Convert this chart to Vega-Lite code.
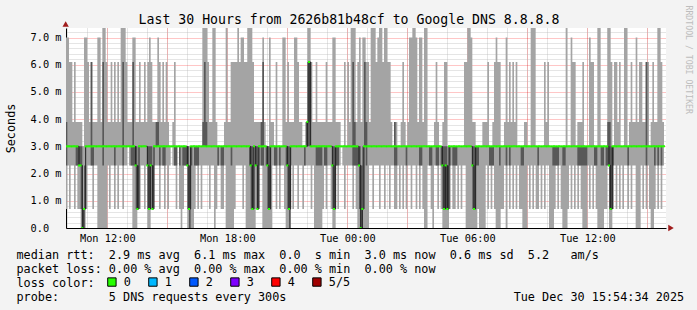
{
"$schema":"https://vega.github.io/schema/vega-lite/v6.json",
"width":600,"height":200,
"autosize":{"type":"none"},
"padding":{"left":66,"top":28,"right":31,"bottom":82},
"background":"#f3f3f3",
"config":{"view":{"fill":"white","stroke":null},"font":"DejaVu Sans Mono"},
"data":{"values":[
{"t":"2025-12-29T09:55","p1":0.7,"p2":2.3,"p3":3,"p4":3.9,"p5":7,"loss":"0"},
{"t":"2025-12-29T10:00","p1":2.3,"p2":3,"p3":3,"p4":3,"p5":7,"loss":"0"},
{"t":"2025-12-29T10:05","p1":0.7,"p2":3,"p3":3,"p4":3,"p5":6.1,"loss":"0"},
{"t":"2025-12-29T10:10","p1":2.3,"p2":3,"p3":3,"p4":3,"p5":6.1,"loss":"0"},
{"t":"2025-12-29T10:15","p1":2.3,"p2":3,"p3":3,"p4":3,"p5":3.9,"loss":"0"},
{"t":"2025-12-29T10:20","p1":0.7,"p2":3,"p3":3,"p4":3,"p5":6.1,"loss":"0"},
{"t":"2025-12-29T10:25","p1":2.3,"p2":2.3,"p3":3,"p4":3,"p5":3.9,"loss":"0"},
{"t":"2025-12-29T10:30","p1":0.7,"p2":2.3,"p3":3,"p4":3,"p5":3.9,"loss":"0"},
{"t":"2025-12-29T10:35","p1":0.7,"p2":2.3,"p3":2.3,"p4":3,"p5":3.9,"loss":"0"},
{"t":"2025-12-29T10:40","p1":0,"p2":0.7,"p3":2.3,"p4":3,"p5":3.9,"loss":"0"},
{"t":"2025-12-29T10:45","p1":0,"p2":0,"p3":0,"p4":0.7,"p5":3,"loss":"0"},
{"t":"2025-12-29T10:50","p1":0,"p2":0.7,"p3":0.7,"p4":2.3,"p5":7,"loss":"0"},
{"t":"2025-12-29T10:55","p1":0.7,"p2":3,"p3":3,"p4":3,"p5":7,"loss":"0"},
{"t":"2025-12-29T11:00","p1":2.3,"p2":3,"p3":3,"p4":3,"p5":6.1,"loss":"0"},
{"t":"2025-12-29T11:05","p1":2.3,"p2":3,"p3":3,"p4":3,"p5":3.9,"loss":"0"},
{"t":"2025-12-29T11:10","p1":2.3,"p2":2.3,"p3":3,"p4":6.1,"p5":6.1,"loss":"0"},
{"t":"2025-12-29T11:15","p1":0.7,"p2":2.3,"p3":3,"p4":3,"p5":3.9,"loss":"0"},
{"t":"2025-12-29T11:20","p1":2.3,"p2":3,"p3":3,"p4":3,"p5":3.9,"loss":"0"},
{"t":"2025-12-29T11:25","p1":2.3,"p2":3,"p3":3,"p4":3,"p5":3.9,"loss":"0"},
{"t":"2025-12-29T11:30","p1":0,"p2":3,"p3":3,"p4":3,"p5":7,"loss":"0"},
{"t":"2025-12-29T11:35","p1":0,"p2":3,"p3":3,"p4":3,"p5":7,"loss":"0"},
{"t":"2025-12-29T11:40","p1":0,"p2":3,"p3":3,"p4":3,"p5":3.9,"loss":"0"},
{"t":"2025-12-29T11:45","p1":0,"p2":2.3,"p3":3,"p4":6.1,"p5":7.35,"loss":"0"},
{"t":"2025-12-29T11:50","p1":0,"p2":3,"p3":3,"p4":3,"p5":7.35,"loss":"0"},
{"t":"2025-12-29T11:55","p1":0,"p2":3,"p3":3,"p4":3,"p5":6.1,"loss":"0"},
{"t":"2025-12-29T12:00","p1":2.3,"p2":3,"p3":3,"p4":3,"p5":3.9,"loss":"0"},
{"t":"2025-12-29T12:05","p1":0.7,"p2":3,"p3":3,"p4":3,"p5":3.9,"loss":"0"},
{"t":"2025-12-29T12:10","p1":2.3,"p2":3,"p3":3,"p4":3,"p5":6.1,"loss":"0"},
{"t":"2025-12-29T12:15","p1":2.3,"p2":3,"p3":3,"p4":3,"p5":3.9,"loss":"0"},
{"t":"2025-12-29T12:20","p1":0.7,"p2":2.3,"p3":3,"p4":3,"p5":6.1,"loss":"0"},
{"t":"2025-12-29T12:25","p1":2.3,"p2":3,"p3":3,"p4":3,"p5":3.9,"loss":"0"},
{"t":"2025-12-29T12:30","p1":0.7,"p2":3,"p3":3,"p4":3,"p5":6.1,"loss":"0"},
{"t":"2025-12-29T12:35","p1":2.3,"p2":3,"p3":3,"p4":3,"p5":3.9,"loss":"0"},
{"t":"2025-12-29T12:40","p1":2.3,"p2":3,"p3":3,"p4":3,"p5":7.35,"loss":"0"},
{"t":"2025-12-29T12:45","p1":0.7,"p2":2.3,"p3":3,"p4":6.1,"p5":7.35,"loss":"0"},
{"t":"2025-12-29T12:50","p1":2.3,"p2":3,"p3":3,"p4":3,"p5":7.35,"loss":"0"},
{"t":"2025-12-29T12:55","p1":2.3,"p2":3,"p3":3,"p4":3,"p5":6.1,"loss":"0"},
{"t":"2025-12-29T13:00","p1":3,"p2":3,"p3":3,"p4":3,"p5":3.9,"loss":"0"},
{"t":"2025-12-29T13:05","p1":2.3,"p2":3,"p3":3,"p4":3,"p5":3.9,"loss":"0"},
{"t":"2025-12-29T13:10","p1":2.3,"p2":2.3,"p3":3,"p4":3,"p5":3.9,"loss":"0"},
{"t":"2025-12-29T13:15","p1":0,"p2":2.3,"p3":3,"p4":6.1,"p5":7,"loss":"0"},
{"t":"2025-12-29T13:20","p1":0,"p2":2.3,"p3":3,"p4":3,"p5":7,"loss":"0"},
{"t":"2025-12-29T13:25","p1":0,"p2":0.7,"p3":2.3,"p4":3,"p5":3.9,"loss":"0"},
{"t":"2025-12-29T13:30","p1":0.7,"p2":0.7,"p3":0.7,"p4":2.3,"p5":3.9,"loss":"0"},
{"t":"2025-12-29T13:35","p1":0.7,"p2":3,"p3":3,"p4":3,"p5":6.1,"loss":"0"},
{"t":"2025-12-29T13:40","p1":2.3,"p2":3,"p3":3,"p4":3,"p5":3.9,"loss":"0"},
{"t":"2025-12-29T13:45","p1":2.3,"p2":3,"p3":3,"p4":3,"p5":3.9,"loss":"0"},
{"t":"2025-12-29T13:50","p1":0.7,"p2":3,"p3":3,"p4":3,"p5":6.1,"loss":"0"},
{"t":"2025-12-29T13:55","p1":2.3,"p2":3,"p3":3,"p4":3,"p5":3.9,"loss":"0"},
{"t":"2025-12-29T14:00","p1":0,"p2":0.7,"p3":2.3,"p4":3,"p5":6.1,"loss":"0"},
{"t":"2025-12-29T14:05","p1":0,"p2":0.7,"p3":0.7,"p4":3,"p5":7,"loss":"0"},
{"t":"2025-12-29T14:10","p1":0.7,"p2":2.3,"p3":2.3,"p4":3,"p5":6.1,"loss":"0"},
{"t":"2025-12-29T14:15","p1":0.7,"p2":0.7,"p3":0.7,"p4":2.3,"p5":3.9,"loss":"0"},
{"t":"2025-12-29T14:20","p1":2.3,"p2":3,"p3":3,"p4":3,"p5":3.9,"loss":"0"},
{"t":"2025-12-29T14:25","p1":2.3,"p2":3,"p3":3,"p4":3.9,"p5":3.9,"loss":"0"},
{"t":"2025-12-29T14:30","p1":2.3,"p2":3,"p3":3,"p4":3.9,"p5":7,"loss":"0"},
{"t":"2025-12-29T14:35","p1":0.7,"p2":2.3,"p3":3,"p4":3,"p5":6.1,"loss":"0"},
{"t":"2025-12-29T14:40","p1":2.3,"p2":3,"p3":3,"p4":3,"p5":3.9,"loss":"0"},
{"t":"2025-12-29T14:45","p1":2.3,"p2":2.3,"p3":3,"p4":3,"p5":6.1,"loss":"0"},
{"t":"2025-12-29T14:50","p1":0.7,"p2":2.3,"p3":3,"p4":3,"p5":3.9,"loss":"0"},
{"t":"2025-12-29T14:55","p1":2.3,"p2":3,"p3":3,"p4":3,"p5":6.1,"loss":"0"},
{"t":"2025-12-29T15:00","p1":0.7,"p2":3,"p3":3,"p4":3,"p5":3.9,"loss":"0"},
{"t":"2025-12-29T15:05","p1":2.3,"p2":3,"p3":3,"p4":3,"p5":3,"loss":"0"},
{"t":"2025-12-29T15:10","p1":3,"p2":3,"p3":3,"p4":3,"p5":3,"loss":"0"},
{"t":"2025-12-29T15:15","p1":2.3,"p2":3,"p3":3,"p4":3,"p5":3.9,"loss":"0"},
{"t":"2025-12-29T15:20","p1":2.3,"p2":2.3,"p3":3,"p4":3,"p5":6.1,"loss":"0"},
{"t":"2025-12-29T15:25","p1":0.7,"p2":2.3,"p3":3,"p4":3,"p5":3,"loss":"0"},
{"t":"2025-12-29T15:30","p1":3,"p2":3,"p3":3,"p4":3,"p5":3,"loss":"0"},
{"t":"2025-12-29T15:35","p1":0.7,"p2":2.3,"p3":3,"p4":3,"p5":3,"loss":"0"},
{"t":"2025-12-29T15:40","p1":0,"p2":3,"p3":3,"p4":3,"p5":3,"loss":"0"},
{"t":"2025-12-29T15:45","p1":0.7,"p2":2.3,"p3":3,"p4":3,"p5":3,"loss":"0"},
{"t":"2025-12-29T15:50","p1":2.3,"p2":2.3,"p3":3,"p4":3,"p5":3,"loss":"0"},
{"t":"2025-12-29T15:55","p1":2.3,"p2":2.3,"p3":3,"p4":3,"p5":3,"loss":"0"},
{"t":"2025-12-29T16:00","p1":0,"p2":0.7,"p3":2.3,"p4":3,"p5":3,"loss":"0"},
{"t":"2025-12-29T16:05","p1":0,"p2":0,"p3":0.7,"p4":2.3,"p5":3,"loss":"0"},
{"t":"2025-12-29T16:10","p1":0,"p2":2.3,"p3":3,"p4":3,"p5":3,"loss":"0"},
{"t":"2025-12-29T16:15","p1":0,"p2":3,"p3":3,"p4":3,"p5":3,"loss":"0"},
{"t":"2025-12-29T16:20","p1":0.7,"p2":2.3,"p3":3,"p4":3,"p5":3,"loss":"0"},
{"t":"2025-12-29T16:25","p1":2.3,"p2":2.3,"p3":3,"p4":3,"p5":3,"loss":"0"},
{"t":"2025-12-29T16:30","p1":0.7,"p2":2.3,"p3":3,"p4":3,"p5":3,"loss":"0"},
{"t":"2025-12-29T16:35","p1":2.3,"p2":3,"p3":3,"p4":3,"p5":3,"loss":"0"},
{"t":"2025-12-29T16:40","p1":0.7,"p2":3,"p3":3,"p4":3,"p5":3,"loss":"0"},
{"t":"2025-12-29T16:45","p1":2.3,"p2":3,"p3":3,"p4":3.9,"p5":7.35,"loss":"0"},
{"t":"2025-12-29T16:50","p1":2.3,"p2":3,"p3":3,"p4":6.1,"p5":7.35,"loss":"0"},
{"t":"2025-12-29T16:55","p1":2.3,"p2":3,"p3":3,"p4":3.9,"p5":7.35,"loss":"0"},
{"t":"2025-12-29T17:00","p1":2.3,"p2":3,"p3":3,"p4":3,"p5":6.1,"loss":"0"},
{"t":"2025-12-29T17:05","p1":0.7,"p2":3,"p3":3,"p4":3,"p5":3.9,"loss":"0"},
{"t":"2025-12-29T17:10","p1":2.3,"p2":3,"p3":3,"p4":3,"p5":3.9,"loss":"0"},
{"t":"2025-12-29T17:15","p1":2.3,"p2":3,"p3":3,"p4":3,"p5":7.35,"loss":"0"},
{"t":"2025-12-29T17:20","p1":0,"p2":3,"p3":3,"p4":3,"p5":7.35,"loss":"0"},
{"t":"2025-12-29T17:25","p1":0.7,"p2":3,"p3":3,"p4":3,"p5":3.9,"loss":"0"},
{"t":"2025-12-29T17:30","p1":2.3,"p2":2.3,"p3":3,"p4":3,"p5":3,"loss":"0"},
{"t":"2025-12-29T17:35","p1":2.3,"p2":3,"p3":3,"p4":3,"p5":3,"loss":"0"},
{"t":"2025-12-29T17:40","p1":0.7,"p2":2.3,"p3":3,"p4":3,"p5":3,"loss":"0"},
{"t":"2025-12-29T17:45","p1":0.7,"p2":2.3,"p3":3,"p4":3,"p5":3,"loss":"0"},
{"t":"2025-12-29T17:50","p1":2.3,"p2":3,"p3":3,"p4":3,"p5":3.9,"loss":"0"},
{"t":"2025-12-29T17:55","p1":0,"p2":3,"p3":3,"p4":3,"p5":7.35,"loss":"0"},
{"t":"2025-12-29T18:00","p1":0,"p2":3,"p3":3,"p4":3,"p5":3.9,"loss":"0"},
{"t":"2025-12-29T18:05","p1":0,"p2":3,"p3":3,"p4":3,"p5":3.9,"loss":"0"},
{"t":"2025-12-29T18:10","p1":0,"p2":2.3,"p3":3,"p4":3,"p5":6.1,"loss":"0"},
{"t":"2025-12-29T18:15","p1":0,"p2":3,"p3":3,"p4":3,"p5":6.1,"loss":"0"},
{"t":"2025-12-29T18:20","p1":0.7,"p2":3,"p3":3,"p4":3,"p5":6.1,"loss":"0"},
{"t":"2025-12-29T18:25","p1":2.3,"p2":3,"p3":3,"p4":3,"p5":6.1,"loss":"0"},
{"t":"2025-12-29T18:30","p1":2.3,"p2":3,"p3":3,"p4":3,"p5":7.35,"loss":"0"},
{"t":"2025-12-29T18:35","p1":2.3,"p2":3,"p3":3,"p4":3,"p5":6.1,"loss":"0"},
{"t":"2025-12-29T18:40","p1":2.3,"p2":3,"p3":3,"p4":3,"p5":7,"loss":"0"},
{"t":"2025-12-29T18:45","p1":0.7,"p2":3,"p3":3,"p4":3,"p5":7,"loss":"0"},
{"t":"2025-12-29T18:50","p1":2.3,"p2":3,"p3":3,"p4":3,"p5":6.1,"loss":"0"},
{"t":"2025-12-29T18:55","p1":0,"p2":3,"p3":3,"p4":3,"p5":6.1,"loss":"0"},
{"t":"2025-12-29T19:00","p1":0,"p2":3,"p3":3,"p4":3,"p5":7.35,"loss":"0"},
{"t":"2025-12-29T19:05","p1":0,"p2":2.3,"p3":3,"p4":3,"p5":7.35,"loss":"0"},
{"t":"2025-12-29T19:10","p1":0,"p2":0.7,"p3":2.3,"p4":3,"p5":7.35,"loss":"0"},
{"t":"2025-12-29T19:15","p1":0,"p2":0.7,"p3":0.7,"p4":3,"p5":6.1,"loss":"0"},
{"t":"2025-12-29T19:20","p1":0,"p2":3,"p3":3,"p4":3,"p5":3.9,"loss":"0"},
{"t":"2025-12-29T19:25","p1":0.7,"p2":2.3,"p3":2.3,"p4":3,"p5":3.9,"loss":"0"},
{"t":"2025-12-29T19:30","p1":0.7,"p2":0.7,"p3":0.7,"p4":3,"p5":3.9,"loss":"0"},
{"t":"2025-12-29T19:35","p1":2.3,"p2":3,"p3":3,"p4":3,"p5":3.9,"loss":"0"},
{"t":"2025-12-29T19:40","p1":2.3,"p2":2.3,"p3":3,"p4":3.9,"p5":3.9,"loss":"0"},
{"t":"2025-12-29T19:45","p1":0,"p2":2.3,"p3":3,"p4":6.1,"p5":7,"loss":"0"},
{"t":"2025-12-29T19:50","p1":0,"p2":3,"p3":3,"p4":3,"p5":3.9,"loss":"0"},
{"t":"2025-12-29T19:55","p1":0,"p2":2.3,"p3":3,"p4":3,"p5":3,"loss":"0"},
{"t":"2025-12-29T20:00","p1":0,"p2":0.7,"p3":2.3,"p4":3,"p5":3,"loss":"0"},
{"t":"2025-12-29T20:05","p1":0,"p2":0.7,"p3":0.7,"p4":3,"p5":7,"loss":"0"},
{"t":"2025-12-29T20:10","p1":0,"p2":3,"p3":3,"p4":3,"p5":3.9,"loss":"0"},
{"t":"2025-12-29T20:15","p1":2.3,"p2":3,"p3":3,"p4":3,"p5":3.9,"loss":"0"},
{"t":"2025-12-29T20:20","p1":2.3,"p2":2.3,"p3":3,"p4":3,"p5":3,"loss":"0"},
{"t":"2025-12-29T20:25","p1":0.7,"p2":2.3,"p3":3,"p4":3,"p5":6.1,"loss":"0"},
{"t":"2025-12-29T20:30","p1":2.3,"p2":3,"p3":3,"p4":3,"p5":3,"loss":"0"},
{"t":"2025-12-29T20:35","p1":0.7,"p2":2.3,"p3":3,"p4":3,"p5":3,"loss":"0"},
{"t":"2025-12-29T20:40","p1":2.3,"p2":3,"p3":3,"p4":3,"p5":3,"loss":"0"},
{"t":"2025-12-29T20:45","p1":2.3,"p2":3,"p3":3,"p4":3,"p5":7,"loss":"0"},
{"t":"2025-12-29T20:50","p1":0.7,"p2":3,"p3":3,"p4":3,"p5":7,"loss":"0"},
{"t":"2025-12-29T20:55","p1":0,"p2":2.3,"p3":3,"p4":3,"p5":3.9,"loss":"0"},
{"t":"2025-12-29T21:00","p1":0,"p2":0.7,"p3":2.3,"p4":3,"p5":6.1,"loss":"0"},
{"t":"2025-12-29T21:05","p1":0,"p2":0,"p3":0.7,"p4":3,"p5":3.9,"loss":"0"},
{"t":"2025-12-29T21:10","p1":2.3,"p2":3,"p3":3,"p4":3,"p5":3.9,"loss":"0"},
{"t":"2025-12-29T21:15","p1":0.7,"p2":3,"p3":3,"p4":3,"p5":3.9,"loss":"0"},
{"t":"2025-12-29T21:20","p1":2.3,"p2":3,"p3":3,"p4":3,"p5":7,"loss":"0"},
{"t":"2025-12-29T21:25","p1":2.3,"p2":3,"p3":3,"p4":3,"p5":7,"loss":"0"},
{"t":"2025-12-29T21:30","p1":0.7,"p2":3,"p3":3,"p4":3,"p5":6.1,"loss":"0"},
{"t":"2025-12-29T21:35","p1":2.3,"p2":3,"p3":3,"p4":3,"p5":3.9,"loss":"0"},
{"t":"2025-12-29T21:40","p1":2.3,"p2":3,"p3":3,"p4":3,"p5":3.9,"loss":"0"},
{"t":"2025-12-29T21:45","p1":0.7,"p2":3,"p3":3,"p4":3,"p5":3,"loss":"0"},
{"t":"2025-12-29T21:50","p1":2.3,"p2":2.3,"p3":3,"p4":3,"p5":3,"loss":"0"},
{"t":"2025-12-29T21:55","p1":2.3,"p2":3,"p3":3,"p4":3.9,"p5":3.9,"loss":"0"},
{"t":"2025-12-29T22:00","p1":2.3,"p2":3,"p3":3.9,"p4":6.1,"p5":7.35,"loss":"0"},
{"t":"2025-12-29T22:05","p1":2.3,"p2":3,"p3":6.1,"p4":6.1,"p5":7.35,"loss":"0"},
{"t":"2025-12-29T22:10","p1":0.7,"p2":3,"p3":3,"p4":3,"p5":6.1,"loss":"0"},
{"t":"2025-12-29T22:15","p1":2.3,"p2":3,"p3":3,"p4":3,"p5":3.9,"loss":"0"},
{"t":"2025-12-29T22:20","p1":0,"p2":3,"p3":3,"p4":3,"p5":3.9,"loss":"0"},
{"t":"2025-12-29T22:25","p1":0,"p2":2.3,"p3":3,"p4":3,"p5":6.1,"loss":"0"},
{"t":"2025-12-29T22:30","p1":0,"p2":2.3,"p3":3,"p4":3,"p5":3.9,"loss":"0"},
{"t":"2025-12-29T22:35","p1":0,"p2":2.3,"p3":3,"p4":3,"p5":3.9,"loss":"0"},
{"t":"2025-12-29T22:40","p1":0,"p2":2.3,"p3":3,"p4":3,"p5":3.9,"loss":"0"},
{"t":"2025-12-29T22:45","p1":0.7,"p2":3,"p3":3,"p4":3,"p5":3.9,"loss":"0"},
{"t":"2025-12-29T22:50","p1":2.3,"p2":2.3,"p3":3,"p4":3,"p5":3.9,"loss":"0"},
{"t":"2025-12-29T22:55","p1":0.7,"p2":2.3,"p3":3,"p4":3,"p5":6.1,"loss":"0"},
{"t":"2025-12-29T23:00","p1":2.3,"p2":3,"p3":3,"p4":3,"p5":3.9,"loss":"0"},
{"t":"2025-12-29T23:05","p1":2.3,"p2":3,"p3":3,"p4":3,"p5":3.9,"loss":"0"},
{"t":"2025-12-29T23:10","p1":0.7,"p2":3,"p3":3,"p4":3,"p5":3.9,"loss":"0"},
{"t":"2025-12-29T23:15","p1":0,"p2":0.7,"p3":2.3,"p4":3,"p5":7,"loss":"0"},
{"t":"2025-12-29T23:20","p1":0,"p2":0.7,"p3":0.7,"p4":3,"p5":7,"loss":"0"},
{"t":"2025-12-29T23:25","p1":2.3,"p2":2.3,"p3":3,"p4":3,"p5":3.9,"loss":"0"},
{"t":"2025-12-29T23:30","p1":0.7,"p2":2.3,"p3":3,"p4":3,"p5":3.9,"loss":"0"},
{"t":"2025-12-29T23:35","p1":2.3,"p2":3,"p3":3,"p4":3,"p5":3.9,"loss":"0"},
{"t":"2025-12-29T23:40","p1":3,"p2":3,"p3":3,"p4":3,"p5":3,"loss":"0"},
{"t":"2025-12-29T23:45","p1":2.3,"p2":3,"p3":3,"p4":3,"p5":3,"loss":"0"},
{"t":"2025-12-29T23:50","p1":0.7,"p2":3,"p3":3,"p4":3,"p5":6.1,"loss":"0"},
{"t":"2025-12-29T23:55","p1":2.3,"p2":3,"p3":3,"p4":3,"p5":3,"loss":"0"},
{"t":"2025-12-30T00:00","p1":2.3,"p2":3,"p3":3,"p4":3,"p5":6.1,"loss":"0"},
{"t":"2025-12-30T00:05","p1":2.3,"p2":3,"p3":3,"p4":3,"p5":3.9,"loss":"0"},
{"t":"2025-12-30T00:10","p1":2.3,"p2":3,"p3":3,"p4":3,"p5":7.35,"loss":"0"},
{"t":"2025-12-30T00:15","p1":0.7,"p2":2.3,"p3":3,"p4":6.1,"p5":7.35,"loss":"0"},
{"t":"2025-12-30T00:20","p1":2.3,"p2":2.3,"p3":3,"p4":3.9,"p5":7.35,"loss":"0"},
{"t":"2025-12-30T00:25","p1":0.7,"p2":2.3,"p3":3,"p4":3,"p5":3.9,"loss":"0"},
{"t":"2025-12-30T00:30","p1":0,"p2":2.3,"p3":3,"p4":3,"p5":6.1,"loss":"0"},
{"t":"2025-12-30T00:35","p1":0,"p2":0.7,"p3":2.3,"p4":3,"p5":7,"loss":"0"},
{"t":"2025-12-30T00:40","p1":0,"p2":0,"p3":0,"p4":2.3,"p5":3.9,"loss":"0"},
{"t":"2025-12-30T00:45","p1":0,"p2":0.7,"p3":0.7,"p4":3,"p5":7,"loss":"0"},
{"t":"2025-12-30T00:50","p1":0,"p2":3,"p3":3,"p4":6.1,"p5":7,"loss":"0"},
{"t":"2025-12-30T00:55","p1":0,"p2":2.3,"p3":3,"p4":3.9,"p5":6.1,"loss":"0"},
{"t":"2025-12-30T01:00","p1":0,"p2":3,"p3":3,"p4":3,"p5":6.1,"loss":"0"},
{"t":"2025-12-30T01:05","p1":2.3,"p2":3,"p3":3,"p4":3,"p5":3.9,"loss":"0"},
{"t":"2025-12-30T01:10","p1":2.3,"p2":3,"p3":3,"p4":3,"p5":7.35,"loss":"0"},
{"t":"2025-12-30T01:15","p1":0.7,"p2":3,"p3":3,"p4":3,"p5":7.35,"loss":"0"},
{"t":"2025-12-30T01:20","p1":2.3,"p2":3,"p3":3,"p4":3,"p5":7.35,"loss":"0"},
{"t":"2025-12-30T01:25","p1":2.3,"p2":3,"p3":3,"p4":3,"p5":6.1,"loss":"0"},
{"t":"2025-12-30T01:30","p1":2.3,"p2":3,"p3":3,"p4":3,"p5":7,"loss":"0"},
{"t":"2025-12-30T01:35","p1":0.7,"p2":3,"p3":3,"p4":3,"p5":7.35,"loss":"0"},
{"t":"2025-12-30T01:40","p1":2.3,"p2":3,"p3":3,"p4":3,"p5":7.35,"loss":"0"},
{"t":"2025-12-30T01:45","p1":2.3,"p2":3,"p3":3,"p4":3,"p5":6.1,"loss":"0"},
{"t":"2025-12-30T01:50","p1":0.7,"p2":3,"p3":3,"p4":3,"p5":7.35,"loss":"0"},
{"t":"2025-12-30T01:55","p1":2.3,"p2":3,"p3":3,"p4":3,"p5":7.35,"loss":"0"},
{"t":"2025-12-30T02:00","p1":2.3,"p2":3,"p3":3,"p4":3,"p5":6.1,"loss":"0"},
{"t":"2025-12-30T02:05","p1":0.7,"p2":3,"p3":3,"p4":3,"p5":6.1,"loss":"0"},
{"t":"2025-12-30T02:10","p1":2.3,"p2":3,"p3":3,"p4":3,"p5":3.9,"loss":"0"},
{"t":"2025-12-30T02:15","p1":2.3,"p2":3,"p3":3,"p4":3,"p5":3,"loss":"0"},
{"t":"2025-12-30T02:20","p1":0.7,"p2":2.3,"p3":3,"p4":3.9,"p5":3.9,"loss":"0"},
{"t":"2025-12-30T02:25","p1":0.7,"p2":2.3,"p3":3,"p4":3,"p5":3.9,"loss":"0"},
{"t":"2025-12-30T02:30","p1":2.3,"p2":3,"p3":3,"p4":3,"p5":3,"loss":"0"},
{"t":"2025-12-30T02:35","p1":0.7,"p2":3,"p3":3,"p4":3,"p5":3,"loss":"0"},
{"t":"2025-12-30T02:40","p1":2.3,"p2":3,"p3":3,"p4":3,"p5":3.9,"loss":"0"},
{"t":"2025-12-30T02:45","p1":0.7,"p2":3,"p3":3,"p4":3,"p5":6.1,"loss":"0"},
{"t":"2025-12-30T02:50","p1":2.3,"p2":3,"p3":3,"p4":3,"p5":3.9,"loss":"0"},
{"t":"2025-12-30T02:55","p1":0.7,"p2":2.3,"p3":3,"p4":3,"p5":3,"loss":"0"},
{"t":"2025-12-30T03:00","p1":2.3,"p2":3,"p3":3,"p4":3,"p5":3.9,"loss":"0"},
{"t":"2025-12-30T03:05","p1":2.3,"p2":3,"p3":3,"p4":3,"p5":7,"loss":"0"},
{"t":"2025-12-30T03:10","p1":0.7,"p2":3,"p3":3,"p4":3,"p5":7,"loss":"0"},
{"t":"2025-12-30T03:15","p1":2.3,"p2":3,"p3":3,"p4":3,"p5":7.35,"loss":"0"},
{"t":"2025-12-30T03:20","p1":2.3,"p2":3,"p3":3,"p4":3,"p5":7.35,"loss":"0"},
{"t":"2025-12-30T03:25","p1":0.7,"p2":3,"p3":3,"p4":3,"p5":7,"loss":"0"},
{"t":"2025-12-30T03:30","p1":2.3,"p2":3,"p3":3,"p4":3,"p5":3.9,"loss":"0"},
{"t":"2025-12-30T03:35","p1":0.7,"p2":2.3,"p3":3,"p4":3,"p5":7,"loss":"0"},
{"t":"2025-12-30T03:40","p1":2.3,"p2":2.3,"p3":3,"p4":3,"p5":7,"loss":"0"},
{"t":"2025-12-30T03:45","p1":0.7,"p2":3,"p3":3,"p4":3,"p5":3.9,"loss":"0"},
{"t":"2025-12-30T03:50","p1":0,"p2":3,"p3":3,"p4":3,"p5":7.35,"loss":"0"},
{"t":"2025-12-30T03:55","p1":0,"p2":3,"p3":3,"p4":3,"p5":7.35,"loss":"0"},
{"t":"2025-12-30T04:00","p1":2.3,"p2":3,"p3":3,"p4":3,"p5":3,"loss":"0"},
{"t":"2025-12-30T04:05","p1":2.3,"p2":2.3,"p3":3,"p4":3,"p5":3,"loss":"0"},
{"t":"2025-12-30T04:10","p1":0.7,"p2":2.3,"p3":3,"p4":3,"p5":3,"loss":"0"},
{"t":"2025-12-30T04:15","p1":0,"p2":3,"p3":3,"p4":3,"p5":3,"loss":"0"},
{"t":"2025-12-30T04:20","p1":2.3,"p2":3,"p3":3,"p4":3,"p5":3.9,"loss":"0"},
{"t":"2025-12-30T04:25","p1":2.3,"p2":2.3,"p3":3,"p4":3,"p5":6.1,"loss":"0"},
{"t":"2025-12-30T04:30","p1":0.7,"p2":2.3,"p3":3,"p4":3,"p5":3.9,"loss":"0"},
{"t":"2025-12-30T04:35","p1":2.3,"p2":3,"p3":3,"p4":3,"p5":3,"loss":"0"},
{"t":"2025-12-30T04:40","p1":0.7,"p2":2.3,"p3":3,"p4":3,"p5":3,"loss":"0"},
{"t":"2025-12-30T04:45","p1":0,"p2":0.7,"p3":2.3,"p4":3,"p5":3.9,"loss":"0"},
{"t":"2025-12-30T04:50","p1":0,"p2":0.7,"p3":0.7,"p4":3,"p5":6.1,"loss":"0"},
{"t":"2025-12-30T04:55","p1":0,"p2":0.7,"p3":2.3,"p4":3,"p5":6.1,"loss":"0"},
{"t":"2025-12-30T05:00","p1":0,"p2":0.7,"p3":0.7,"p4":2.3,"p5":3,"loss":"0"},
{"t":"2025-12-30T05:05","p1":0.7,"p2":2.3,"p3":3,"p4":3,"p5":3,"loss":"0"},
{"t":"2025-12-30T05:10","p1":2.3,"p2":3,"p3":3,"p4":3,"p5":3,"loss":"0"},
{"t":"2025-12-30T05:15","p1":0.7,"p2":2.3,"p3":3,"p4":3,"p5":3,"loss":"0"},
{"t":"2025-12-30T05:20","p1":0.7,"p2":2.3,"p3":3,"p4":3,"p5":3,"loss":"0"},
{"t":"2025-12-30T05:25","p1":2.3,"p2":2.3,"p3":3,"p4":3,"p5":3,"loss":"0"},
{"t":"2025-12-30T05:30","p1":0.7,"p2":3,"p3":3,"p4":3,"p5":3,"loss":"0"},
{"t":"2025-12-30T05:35","p1":2.3,"p2":3,"p3":3,"p4":3,"p5":3,"loss":"0"},
{"t":"2025-12-30T05:40","p1":0.7,"p2":3,"p3":3,"p4":3,"p5":3,"loss":"0"},
{"t":"2025-12-30T05:45","p1":2.3,"p2":3,"p3":3,"p4":3,"p5":3,"loss":"0"},
{"t":"2025-12-30T05:50","p1":2.3,"p2":3,"p3":3,"p4":3,"p5":6.1,"loss":"0"},
{"t":"2025-12-30T05:55","p1":0,"p2":3,"p3":3,"p4":3,"p5":6.1,"loss":"0"},
{"t":"2025-12-30T06:00","p1":0,"p2":3,"p3":3,"p4":3,"p5":7.35,"loss":"0"},
{"t":"2025-12-30T06:05","p1":0,"p2":3,"p3":3,"p4":3,"p5":7.35,"loss":"0"},
{"t":"2025-12-30T06:10","p1":0,"p2":3,"p3":3,"p4":3,"p5":7,"loss":"0"},
{"t":"2025-12-30T06:15","p1":0,"p2":0.7,"p3":2.3,"p4":3,"p5":3.9,"loss":"0"},
{"t":"2025-12-30T06:20","p1":0,"p2":0.7,"p3":0.7,"p4":3,"p5":3.9,"loss":"0"},
{"t":"2025-12-30T06:25","p1":0,"p2":2.3,"p3":3,"p4":3,"p5":3,"loss":"0"},
{"t":"2025-12-30T06:30","p1":0.7,"p2":2.3,"p3":3,"p4":3,"p5":3,"loss":"0"},
{"t":"2025-12-30T06:35","p1":0,"p2":3,"p3":3,"p4":3,"p5":3,"loss":"0"},
{"t":"2025-12-30T06:40","p1":0,"p2":3,"p3":3,"p4":3,"p5":3,"loss":"0"},
{"t":"2025-12-30T06:45","p1":0,"p2":3,"p3":3,"p4":3,"p5":3.9,"loss":"0"},
{"t":"2025-12-30T06:50","p1":0,"p2":3,"p3":3,"p4":3,"p5":3.9,"loss":"0"},
{"t":"2025-12-30T06:55","p1":2.3,"p2":3,"p3":3,"p4":3,"p5":3.9,"loss":"0"},
{"t":"2025-12-30T07:00","p1":0.7,"p2":3,"p3":3,"p4":3,"p5":6.1,"loss":"0"},
{"t":"2025-12-30T07:05","p1":2.3,"p2":2.3,"p3":3,"p4":3,"p5":3,"loss":"0"},
{"t":"2025-12-30T07:10","p1":0.7,"p2":2.3,"p3":3,"p4":3,"p5":3,"loss":"0"},
{"t":"2025-12-30T07:15","p1":2.3,"p2":2.3,"p3":3,"p4":3,"p5":3.9,"loss":"0"},
{"t":"2025-12-30T07:20","p1":0.7,"p2":3,"p3":3,"p4":3,"p5":6.1,"loss":"0"},
{"t":"2025-12-30T07:25","p1":0,"p2":3,"p3":3,"p4":3,"p5":7,"loss":"0"},
{"t":"2025-12-30T07:30","p1":0,"p2":3,"p3":3,"p4":3,"p5":6.1,"loss":"0"},
{"t":"2025-12-30T07:35","p1":0,"p2":2.3,"p3":3,"p4":3,"p5":6.1,"loss":"0"},
{"t":"2025-12-30T07:40","p1":0.7,"p2":3,"p3":3,"p4":3,"p5":3,"loss":"0"},
{"t":"2025-12-30T07:45","p1":0.7,"p2":3,"p3":3,"p4":3,"p5":3,"loss":"0"},
{"t":"2025-12-30T07:50","p1":2.3,"p2":3,"p3":3,"p4":3,"p5":3.9,"loss":"0"},
{"t":"2025-12-30T07:55","p1":0,"p2":2.3,"p3":3,"p4":3,"p5":7,"loss":"0"},
{"t":"2025-12-30T08:00","p1":2.3,"p2":3,"p3":3,"p4":3,"p5":3.9,"loss":"0"},
{"t":"2025-12-30T08:05","p1":0.7,"p2":2.3,"p3":3,"p4":3,"p5":6.1,"loss":"0"},
{"t":"2025-12-30T08:10","p1":2.3,"p2":3,"p3":3,"p4":3,"p5":3.9,"loss":"0"},
{"t":"2025-12-30T08:15","p1":0.7,"p2":3,"p3":3,"p4":3,"p5":6.1,"loss":"0"},
{"t":"2025-12-30T08:20","p1":2.3,"p2":3,"p3":3,"p4":3,"p5":3.9,"loss":"0"},
{"t":"2025-12-30T08:25","p1":0.7,"p2":3,"p3":3,"p4":3,"p5":6.1,"loss":"0"},
{"t":"2025-12-30T08:30","p1":2.3,"p2":3,"p3":3,"p4":3,"p5":3,"loss":"0"},
{"t":"2025-12-30T08:35","p1":0.7,"p2":3,"p3":3,"p4":3,"p5":3,"loss":"0"},
{"t":"2025-12-30T08:40","p1":0.7,"p2":2.3,"p3":3,"p4":3,"p5":3,"loss":"0"},
{"t":"2025-12-30T08:45","p1":0,"p2":2.3,"p3":3,"p4":3,"p5":3,"loss":"0"},
{"t":"2025-12-30T08:50","p1":0,"p2":3,"p3":3,"p4":3,"p5":3.9,"loss":"0"},
{"t":"2025-12-30T08:55","p1":0,"p2":3,"p3":3,"p4":3,"p5":3.9,"loss":"0"},
{"t":"2025-12-30T09:00","p1":2.3,"p2":3,"p3":3,"p4":3,"p5":3,"loss":"0"},
{"t":"2025-12-30T09:05","p1":0.7,"p2":3,"p3":3,"p4":3,"p5":3,"loss":"0"},
{"t":"2025-12-30T09:10","p1":2.3,"p2":3,"p3":3,"p4":3,"p5":7.35,"loss":"0"},
{"t":"2025-12-30T09:15","p1":0.7,"p2":3,"p3":3,"p4":3,"p5":7.35,"loss":"0"},
{"t":"2025-12-30T09:20","p1":2.3,"p2":3,"p3":3,"p4":3,"p5":7.35,"loss":"0"},
{"t":"2025-12-30T09:25","p1":0.7,"p2":3,"p3":3,"p4":3,"p5":3,"loss":"0"},
{"t":"2025-12-30T09:30","p1":0.7,"p2":2.3,"p3":3,"p4":3,"p5":3,"loss":"0"},
{"t":"2025-12-30T09:35","p1":2.3,"p2":3,"p3":3,"p4":3,"p5":3,"loss":"0"},
{"t":"2025-12-30T09:40","p1":0.7,"p2":3,"p3":3,"p4":3,"p5":3,"loss":"0"},
{"t":"2025-12-30T09:45","p1":2.3,"p2":3,"p3":3,"p4":3,"p5":3,"loss":"0"},
{"t":"2025-12-30T09:50","p1":0.7,"p2":3,"p3":3,"p4":3,"p5":6.1,"loss":"0"},
{"t":"2025-12-30T09:55","p1":2.3,"p2":3,"p3":3,"p4":3,"p5":3.9,"loss":"0"},
{"t":"2025-12-30T10:00","p1":2.3,"p2":3,"p3":3,"p4":3,"p5":6.1,"loss":"0"},
{"t":"2025-12-30T10:05","p1":0,"p2":3,"p3":3,"p4":3,"p5":3,"loss":"0"},
{"t":"2025-12-30T10:10","p1":0,"p2":3,"p3":3,"p4":3,"p5":3,"loss":"0"},
{"t":"2025-12-30T10:15","p1":0,"p2":2.3,"p3":3,"p4":3,"p5":3,"loss":"0"},
{"t":"2025-12-30T10:20","p1":0.7,"p2":2.3,"p3":3,"p4":3,"p5":3,"loss":"0"},
{"t":"2025-12-30T10:25","p1":2.3,"p2":2.3,"p3":3,"p4":3,"p5":3,"loss":"0"},
{"t":"2025-12-30T10:30","p1":0.7,"p2":2.3,"p3":3,"p4":3,"p5":3,"loss":"0"},
{"t":"2025-12-30T10:35","p1":2.3,"p2":3,"p3":3,"p4":3,"p5":3,"loss":"0"},
{"t":"2025-12-30T10:40","p1":0.7,"p2":3,"p3":3,"p4":3,"p5":3,"loss":"0"},
{"t":"2025-12-30T10:45","p1":0,"p2":2.3,"p3":3,"p4":3,"p5":3,"loss":"0"},
{"t":"2025-12-30T10:50","p1":0,"p2":2.3,"p3":3,"p4":3,"p5":3,"loss":"0"},
{"t":"2025-12-30T10:55","p1":0,"p2":3,"p3":3,"p4":3,"p5":7.35,"loss":"0"},
{"t":"2025-12-30T11:00","p1":0.7,"p2":3,"p3":3,"p4":3,"p5":3,"loss":"0"},
{"t":"2025-12-30T11:05","p1":2.3,"p2":3,"p3":3,"p4":3,"p5":3,"loss":"0"},
{"t":"2025-12-30T11:10","p1":0.7,"p2":3,"p3":3,"p4":3,"p5":7,"loss":"0"},
{"t":"2025-12-30T11:15","p1":2.3,"p2":3,"p3":3,"p4":3,"p5":6.1,"loss":"0"},
{"t":"2025-12-30T11:20","p1":0.7,"p2":3,"p3":3,"p4":3,"p5":6.1,"loss":"0"},
{"t":"2025-12-30T11:25","p1":2.3,"p2":3,"p3":3,"p4":3,"p5":3,"loss":"0"},
{"t":"2025-12-30T11:30","p1":0.7,"p2":2.3,"p3":3,"p4":3,"p5":3.9,"loss":"0"},
{"t":"2025-12-30T11:35","p1":2.3,"p2":2.3,"p3":3,"p4":3,"p5":3.9,"loss":"0"},
{"t":"2025-12-30T11:40","p1":0.7,"p2":2.3,"p3":3,"p4":3,"p5":3.9,"loss":"0"},
{"t":"2025-12-30T11:45","p1":0,"p2":2.3,"p3":3,"p4":3,"p5":6.1,"loss":"0"},
{"t":"2025-12-30T11:50","p1":0,"p2":2.3,"p3":3,"p4":3,"p5":3,"loss":"0"},
{"t":"2025-12-30T11:55","p1":0,"p2":2.3,"p3":3,"p4":3,"p5":3,"loss":"0"},
{"t":"2025-12-30T12:00","p1":2.3,"p2":3,"p3":3,"p4":3,"p5":3,"loss":"0"},
{"t":"2025-12-30T12:05","p1":0.7,"p2":3,"p3":3,"p4":3,"p5":7,"loss":"0"},
{"t":"2025-12-30T12:10","p1":2.3,"p2":3,"p3":3,"p4":3,"p5":6.1,"loss":"0"},
{"t":"2025-12-30T12:15","p1":0.7,"p2":3,"p3":3,"p4":3,"p5":6.1,"loss":"0"},
{"t":"2025-12-30T12:20","p1":2.3,"p2":2.3,"p3":3,"p4":3,"p5":3,"loss":"0"},
{"t":"2025-12-30T12:25","p1":0.7,"p2":2.3,"p3":3,"p4":3,"p5":3,"loss":"0"},
{"t":"2025-12-30T12:30","p1":0,"p2":3,"p3":3,"p4":3,"p5":7.35,"loss":"0"},
{"t":"2025-12-30T12:35","p1":0,"p2":3,"p3":3,"p4":3,"p5":7.35,"loss":"0"},
{"t":"2025-12-30T12:40","p1":0,"p2":2.3,"p3":3,"p4":3,"p5":3,"loss":"0"},
{"t":"2025-12-30T12:45","p1":0,"p2":2.3,"p3":3,"p4":3,"p5":3,"loss":"0"},
{"t":"2025-12-30T12:50","p1":0.7,"p2":3,"p3":3,"p4":3,"p5":3,"loss":"0"},
{"t":"2025-12-30T12:55","p1":0.7,"p2":2.3,"p3":3,"p4":3,"p5":3,"loss":"0"},
{"t":"2025-12-30T13:00","p1":2.3,"p2":2.3,"p3":3,"p4":3.9,"p5":7.35,"loss":"0"},
{"t":"2025-12-30T13:05","p1":0,"p2":0.7,"p3":2.3,"p4":3.9,"p5":7.35,"loss":"0"},
{"t":"2025-12-30T13:10","p1":0,"p2":0.7,"p3":0.7,"p4":3,"p5":6.1,"loss":"0"},
{"t":"2025-12-30T13:15","p1":0.7,"p2":2.3,"p3":3,"p4":3,"p5":3,"loss":"0"},
{"t":"2025-12-30T13:20","p1":2.3,"p2":3,"p3":3,"p4":3,"p5":6.1,"loss":"0"},
{"t":"2025-12-30T13:25","p1":0.7,"p2":3,"p3":3,"p4":3,"p5":6.1,"loss":"0"},
{"t":"2025-12-30T13:30","p1":2.3,"p2":3,"p3":3,"p4":3,"p5":3.9,"loss":"0"},
{"t":"2025-12-30T13:35","p1":0.7,"p2":3,"p3":3,"p4":3,"p5":6.1,"loss":"0"},
{"t":"2025-12-30T13:40","p1":2.3,"p2":3,"p3":3,"p4":3,"p5":3,"loss":"0"},
{"t":"2025-12-30T13:45","p1":0.7,"p2":3,"p3":3,"p4":3,"p5":3,"loss":"0"},
{"t":"2025-12-30T13:50","p1":2.3,"p2":3,"p3":3,"p4":3,"p5":7.35,"loss":"0"},
{"t":"2025-12-30T13:55","p1":2.3,"p2":3,"p3":3,"p4":3,"p5":7.35,"loss":"0"},
{"t":"2025-12-30T14:00","p1":0.7,"p2":2.3,"p3":3,"p4":3,"p5":3,"loss":"0"},
{"t":"2025-12-30T14:05","p1":2.3,"p2":3,"p3":3,"p4":3,"p5":3.9,"loss":"0"},
{"t":"2025-12-30T14:10","p1":0.7,"p2":3,"p3":3,"p4":3,"p5":6.1,"loss":"0"},
{"t":"2025-12-30T14:15","p1":2.3,"p2":3,"p3":3,"p4":3,"p5":3.9,"loss":"0"},
{"t":"2025-12-30T14:20","p1":2.3,"p2":3,"p3":3,"p4":3,"p5":3.9,"loss":"0"},
{"t":"2025-12-30T14:25","p1":0,"p2":3,"p3":3,"p4":3,"p5":7,"loss":"0"},
{"t":"2025-12-30T14:30","p1":0,"p2":3,"p3":3,"p4":3,"p5":3.9,"loss":"0"},
{"t":"2025-12-30T14:35","p1":0,"p2":3,"p3":3,"p4":3,"p5":6.1,"loss":"0"},
{"t":"2025-12-30T14:40","p1":2.3,"p2":3,"p3":3,"p4":3,"p5":6.1,"loss":"0"},
{"t":"2025-12-30T14:45","p1":0.7,"p2":3,"p3":3,"p4":3,"p5":3.9,"loss":"0"},
{"t":"2025-12-30T14:50","p1":2.3,"p2":3,"p3":3,"p4":3,"p5":3.9,"loss":"0"},
{"t":"2025-12-30T14:55","p1":0.7,"p2":2.3,"p3":3,"p4":6.1,"p5":6.1,"loss":"0"},
{"t":"2025-12-30T15:00","p1":2.3,"p2":3,"p3":3,"p4":3,"p5":6.1,"loss":"0"},
{"t":"2025-12-30T15:05","p1":0.7,"p2":3,"p3":3,"p4":3,"p5":3,"loss":"0"},
{"t":"2025-12-30T15:10","p1":0,"p2":3,"p3":3,"p4":3,"p5":3.9,"loss":"0"},
{"t":"2025-12-30T15:15","p1":0,"p2":3,"p3":3,"p4":3,"p5":6.1,"loss":"0"},
{"t":"2025-12-30T15:20","p1":0.7,"p2":2.3,"p3":3,"p4":3,"p5":3.9,"loss":"0"},
{"t":"2025-12-30T15:25","p1":2.3,"p2":3,"p3":3,"p4":3,"p5":3.9,"loss":"0"},
{"t":"2025-12-30T15:30","p1":0.7,"p2":2.3,"p3":3,"p4":3,"p5":7.35,"loss":"0"},
{"t":"2025-12-30T15:35","p1":2.3,"p2":3,"p3":3,"p4":3,"p5":7.35,"loss":"0"},
{"t":"2025-12-30T15:40","p1":0.7,"p2":2.3,"p3":3,"p4":3,"p5":6.1,"loss":"0"},
{"t":"2025-12-30T15:45","p1":2.3,"p2":3,"p3":3,"p4":3,"p5":3.9,"loss":"0"},
{"t":"2025-12-30T15:50","p1":2.3,"p2":3,"p3":3,"p4":3,"p5":3.9,"loss":"0"}
]},
"layer":[
{"mark":{"type":"area","interpolate":"step-after","color":"#a4a4a4","clip":true},
 "encoding":{
  "x":{"field":"t","type":"temporal",
   "scale":{"domain":[{"year":2025,"month":12,"date":29,"hours":9,"minutes":56},{"year":2025,"month":12,"date":30,"hours":15,"minutes":56}]},
   "axis":{"orient":"bottom","tickCount":30,"grid":true,"gridColor":"#b4b4b4","gridDash":[1,1],"gridOpacity":0.7,"labels":false,"ticks":false,"domain":false,
    "title":"packet\u00a0loss:\u00a00.00\u00a0%\u00a0avg\u00a0\u00a00.00\u00a0%\u00a0max\u00a0\u00a00.00\u00a0%\u00a0min\u00a0\u00a00.00\u00a0%\u00a0now",
    "titleFont":"DejaVu Sans Mono","titleFontSize":11.8,"titleFontWeight":"normal","titleColor":"#000000",
    "titleX":-50,"titleY":44.2,"titleAlign":"left","titleBaseline":"alphabetic","titleAngle":0,"titleLimit":1000}},
  "y":{"field":"p1","type":"quantitative","scale":{"domain":[0,7.35],"nice":false},
   "axis":{"orient":"left","values":[0.2,0.4,0.6,0.8,1.2,1.4,1.6,1.8,2.2,2.4,2.6,2.8,3.2,3.4,3.6,3.8,4.2,4.4,4.6,4.8,5.2,5.4,5.6,5.8,6.2,6.4,6.6,6.8,7.2],"grid":true,"gridColor":"#b4b4b4","gridDash":[1,1],"gridOpacity":0.7,"labels":false,"ticks":false,"domain":false,
    "title":"probe:\u00a0\u00a0\u00a0\u00a0\u00a0\u00a0\u00a05\u00a0DNS\u00a0requests\u00a0every\u00a0300s\u00a0\u00a0\u00a0\u00a0\u00a0\u00a0\u00a0\u00a0\u00a0\u00a0\u00a0\u00a0\u00a0\u00a0\u00a0\u00a0\u00a0\u00a0\u00a0\u00a0\u00a0\u00a0\u00a0\u00a0\u00a0\u00a0\u00a0\u00a0\u00a0\u00a0\u00a0\u00a0Tue\u00a0Dec\u00a030\u00a015:54:34\u00a02025",
    "titleFont":"DejaVu Sans Mono","titleFontSize":11.8,"titleFontWeight":"normal","titleColor":"#000000",
    "titleX":-50,"titleY":272.2,"titleAlign":"left","titleBaseline":"alphabetic","titleAngle":0,"titleLimit":1000}},
  "y2":{"field":"p5"}}},
{"mark":{"type":"area","interpolate":"step-after","color":"#585858","clip":true},
 "encoding":{
  "x":{"field":"t","type":"temporal",
   "axis":{"orient":"bottom","tickCount":10,"grid":true,"gridColor":"#ff0000","gridOpacity":0.45,"gridDash":[1,1],
    "labelExpr":"hours(datum.value) % 6 == 0 ? timeFormat(datum.value, '%a %H:%M') : ''",
    "labelOverlap":false,"labelFlush":false,"labelBound":false,"ticks":false,"domain":true,"domainColor":"#000000","domainWidth":1,
    "labelPadding":5,"labelFont":"DejaVu Sans Mono","labelFontSize":10.3,"labelColor":"#000000",
    "title":"median\u00a0rtt:\u00a0\u00a02.9\u00a0ms\u00a0avg\u00a0\u00a06.1\u00a0ms\u00a0max\u00a0\u00a00.0\u00a0\u00a0s\u00a0min\u00a0\u00a03.0\u00a0ms\u00a0now\u00a0\u00a00.6\u00a0ms\u00a0sd\u00a0\u00a05.2\u00a0\u00a0\u00a0am/s",
    "titleFont":"DejaVu Sans Mono","titleFontSize":11.8,"titleFontWeight":"normal","titleColor":"#000000",
    "titleX":-50,"titleY":30.5,"titleAlign":"left","titleBaseline":"alphabetic","titleAngle":0,"titleLimit":1000}},
  "y":{"field":"p2","type":"quantitative",
   "axis":{"orient":"left","values":[0,1,2,3,4,5,6,7],"grid":true,"gridColor":"#ff0000","gridOpacity":0.45,"gridDash":[1,1],
    "labelExpr":"datum.value == 0 ? '0.0' : format(datum.value, '.1f') + ' m'",
    "ticks":false,"domain":true,"domainColor":"#000000","domainWidth":1,"labelPadding":36,"labelFont":"DejaVu Sans Mono","labelFontSize":10.3,"labelColor":"#000000","labelBaseline":"middle","labelAlign":"left","labelFlush":false,"labelOverlap":false,
    "title":"Seconds","titleFont":"DejaVu Sans Mono","titleFontSize":11.8,"titleFontWeight":"normal","titleColor":"#000000","titleAngle":-90,"titleX":-56,"titleY":100,"titleAlign":"center","titleBaseline":"middle"}},
  "y2":{"field":"p4"}}},
{"mark":{"type":"line","interpolate":"step-after","color":"#1e1e1e","strokeWidth":1,"clip":true},
 "encoding":{
  "x":{"field":"t","type":"temporal",
   "axis":{"orient":"top","labels":false,"ticks":false,"domain":false,"grid":false,
    "title":"Last 30 Hours from 2626b81b48cf to Google DNS 8.8.8.8","titleFont":"DejaVu Sans Mono","titleFontSize":13.2,"titleFontWeight":"normal","titleColor":"#000000","titleX":282.5,"titleY":-5,"titleAlign":"center","titleBaseline":"alphabetic","titleAngle":0,"titleLimit":1000}},
  "y":{"field":"p3","type":"quantitative",
   "axis":{"orient":"right","labels":false,"ticks":false,"domain":false,"grid":false,
    "title":"RRDTOOL / TOBI OETIKER","titleFont":"DejaVu Sans Mono","titleFontSize":8.2,"titleFontWeight":"normal","titleColor":"#bdbdbd","titleAngle":90,"titleX":21.5,"titleY":-23,"titleAlign":"left","titleBaseline":"middle","titleLimit":1000}}}},
{"mark":{"type":"tick","orient":"horizontal","thickness":2,"size":2,"opacity":1,"clip":true},
 "encoding":{
  "x":{"field":"t","type":"temporal",
   "axis":{"orient":"bottom","labels":false,"ticks":false,"domain":false,"grid":false,
    "title":"loss\u00a0color:","titleFont":"DejaVu Sans Mono","titleFontSize":11.8,"titleFontWeight":"normal","titleColor":"#000000",
    "titleX":-50,"titleY":58.2,"titleAlign":"left","titleBaseline":"alphabetic","titleAngle":0,"titleLimit":1000}},
  "y":{"field":"p3","type":"quantitative","axis":null},
  "color":{"field":"loss","type":"nominal",
   "scale":{"domain":["0","1","2","3","4","5/5"],"range":["#26ff00","#00b8ff","#0059ff","#7e00ff","#ff0000","#a00000"]},
   "legend":{"orient":"none","legendX":40,"legendY":248,"direction":"horizontal","title":null,"symbolType":"square","symbolSize":70,"symbolStrokeColor":"#000000","symbolStrokeWidth":1,"symbolOpacity":1,"labelFont":"DejaVu Sans Mono","labelFontSize":11.8,"labelColor":"#000000","labelOffset":6,"columnPadding":15}}}},
{"transform":[{"filter":"date(datum.t) == 29 && hours(datum.t) == 9 && minutes(datum.t) == 55"}],
 "mark":{"type":"point","shape":"triangle-up","filled":true,"color":"#a01c1c","size":40,"opacity":1,"yOffset":-4,"clip":false},
 "encoding":{
  "x":{"field":"t","type":"temporal","axis":null},
  "y":{"datum":7.35,"type":"quantitative","axis":null}}},
{"transform":[{"filter":"date(datum.t) == 30 && hours(datum.t) == 15 && minutes(datum.t) == 50"}],
 "mark":{"type":"point","shape":"triangle-right","filled":true,"color":"#a01c1c","size":40,"opacity":1,"xOffset":7,"clip":false},
 "encoding":{
  "x":{"field":"t","type":"temporal","axis":null},
  "y":{"datum":0,"type":"quantitative","axis":null}}}
],
"resolve":{"axis":{"x":"independent","y":"independent"}}
}
